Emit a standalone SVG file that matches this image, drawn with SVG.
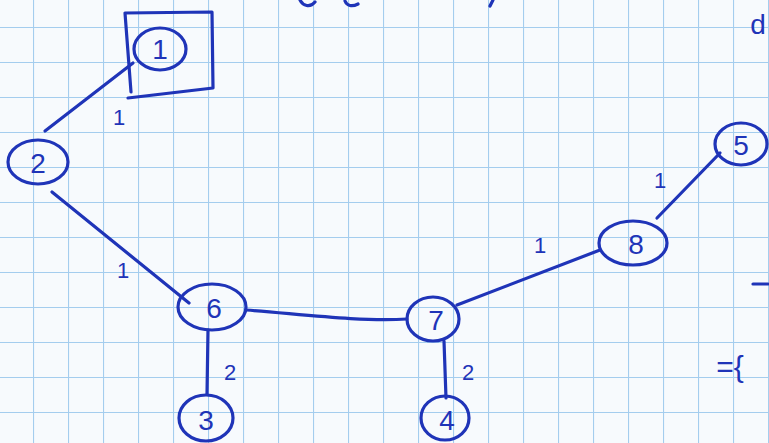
<svg xmlns="http://www.w3.org/2000/svg" width="769" height="443" viewBox="0 0 769 443">
<defs>
<pattern id="grid" x="33" y="27" width="35" height="35" patternUnits="userSpaceOnUse">
<path d="M0 0V35M0 0H35" fill="none" stroke="#a4cdee" stroke-width="2.2"/>
</pattern>
</defs>
<style>
.ink{fill:none;stroke:#1f34b8;stroke-width:3.2;stroke-linecap:round;stroke-linejoin:round}
.nt{font-family:"Liberation Sans",Arial,sans-serif;font-size:28px;fill:#1f34b8;text-anchor:middle;dominant-baseline:central}
.lt{font-family:"Liberation Sans",Arial,sans-serif;font-size:22px;fill:#1f34b8;text-anchor:middle;dominant-baseline:central}
</style>
<rect width="769" height="443" fill="#f7fafd"/>
<rect width="769" height="443" fill="url(#grid)"/>
<g id="connectors">
<path class="ink" d="M133 63L45 131"/>
<path class="ink" d="M52 192L189 303"/>
<path class="ink" d="M246 310C300 314 360 322 407 319"/>
<path class="ink" d="M208 330L207 394"/>
<path class="ink" d="M444 341L446 398"/>
<path class="ink" d="M457 305L600 250"/>
<path class="ink" d="M657 218L720 153"/>
</g>
<g id="edge-labels">
<text class="lt" x="119" y="117">1</text>
<text class="lt" x="123" y="270">1</text>
<text class="lt" x="230" y="372">2</text>
<text class="lt" x="468" y="372">2</text>
<text class="lt" x="540" y="245">1</text>
<text class="lt" x="660" y="180">1</text>
</g>
<g id="node-1">
<path class="ink" d="M125 13L212 12L213 88L128 98M125 13L131 92"/>
<ellipse class="ink" cx="160" cy="49" rx="26" ry="21"/>
<text class="nt" x="160" y="49">1</text>
</g>
<g id="node-2">
<ellipse class="ink" cx="38" cy="162" rx="30" ry="22"/>
<text class="nt" x="38" y="163">2</text>
</g>
<g id="node-3">
<ellipse class="ink" cx="206" cy="418" rx="27" ry="23"/>
<text class="nt" x="206" y="420">3</text>
</g>
<g id="node-4">
<ellipse class="ink" cx="445" cy="418" rx="24" ry="22"/>
<text class="nt" x="447" y="420">4</text>
</g>
<g id="node-5">
<ellipse class="ink" cx="741" cy="144" rx="26" ry="21"/>
<text class="nt" x="741" y="145">5</text>
</g>
<g id="node-6">
<ellipse class="ink" cx="212" cy="307" rx="34" ry="23"/>
<text class="nt" x="214" y="308">6</text>
</g>
<g id="node-7">
<ellipse class="ink" cx="433" cy="319" rx="26" ry="22"/>
<text class="nt" x="436" y="320">7</text>
</g>
<g id="node-8">
<ellipse class="ink" cx="633" cy="243" rx="34" ry="22"/>
<text class="nt" x="636" y="244">8</text>
</g>
<g id="margin-notes">
<text class="nt" x="758" y="24">d</text>
<path class="ink" d="M753 284H768"/>
<text class="nt" style="font-size:30px" x="730" y="366">={</text>
<path class="ink" d="M300 0C303 6 310 8 315 2M345 1C347 6 352 7 358 4M493 0L490 6"/>
</g>
</svg>
